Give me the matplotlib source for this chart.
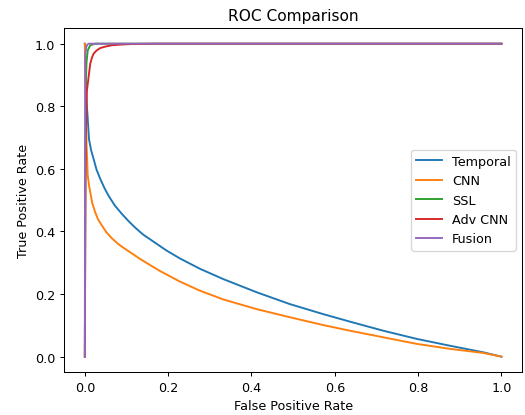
import matplotlib
matplotlib.use("Agg")
import matplotlib.pyplot as plt

# curves
temporal_fpr = [0.0, 0.003, 0.007, 0.010, 0.015, 0.021, 0.028, 0.037, 0.047, 0.057,
                0.072, 0.089, 0.105, 0.121, 0.14, 0.161, 0.195, 0.228, 0.276,
                0.332, 0.412, 0.492, 0.572, 0.636, 0.716, 0.796, 0.876, 0.956, 1.0]
temporal_tpr = [1.0, 0.84, 0.759, 0.695, 0.66, 0.632, 0.598, 0.568, 0.539, 0.514,
                0.483, 0.456, 0.433, 0.412, 0.39, 0.371, 0.34, 0.314, 0.281,
                0.248, 0.206, 0.168, 0.136, 0.112, 0.083, 0.057, 0.035, 0.014, 0.0]

cnn_fpr = [0.0, 0.004, 0.007, 0.010, 0.013, 0.018, 0.025, 0.032, 0.041, 0.052,
           0.065, 0.08, 0.097, 0.115, 0.133, 0.155, 0.18, 0.228, 0.276, 0.332,
           0.412, 0.492, 0.572, 0.636, 0.716, 0.796, 0.876, 0.956, 1.0]
cnn_tpr = [1.0, 0.68, 0.578, 0.548, 0.525, 0.49, 0.461, 0.438, 0.419, 0.397,
           0.378, 0.36, 0.344, 0.328, 0.312, 0.294, 0.274, 0.240, 0.211, 0.183,
           0.152, 0.126, 0.101, 0.083, 0.062, 0.041, 0.025, 0.012, 0.0]

ssl_fpr = [0.0, 0.002, 0.004, 0.007, 0.013, 0.025, 0.06, 1.0]
ssl_tpr = [0.0, 0.85, 0.94, 0.979, 0.995, 1.0, 1.0, 1.0]

adv_fpr = [0.0, 0.002, 0.005, 0.010, 0.013, 0.017, 0.021, 0.028, 0.037, 0.05,
           0.065, 0.085, 0.113, 0.17, 0.25, 1.0]
adv_tpr = [0.0, 0.7, 0.85, 0.904, 0.936, 0.955, 0.968, 0.978, 0.986, 0.991,
           0.995, 0.997, 0.999, 1.0, 1.0, 1.0]

fusion_fpr = [0.0, 0.001, 0.003, 0.006, 0.009, 0.05, 1.0]
fusion_tpr = [0.0, 0.96, 0.988, 0.997, 1.0, 1.0, 1.0]

dpi = 92
fig = plt.figure(figsize=(525 / dpi, 416 / dpi), dpi=dpi)
ax = fig.add_axes([0.1219, 0.1026, 0.873, 0.8276])

ax.plot(temporal_fpr, temporal_tpr, label="Temporal")
ax.plot(cnn_fpr, cnn_tpr, label="CNN")
ax.plot(ssl_fpr, ssl_tpr, label="SSL")
ax.plot(adv_fpr, adv_tpr, label="Adv CNN")
ax.plot(fusion_fpr, fusion_tpr, label="Fusion")

ax.set_xlim(-0.05, 1.05)
ax.set_ylim(-0.05, 1.05)
ax.set_xlabel("False Positive Rate")
ax.set_ylabel("True Positive Rate")
ax.set_title("ROC Comparison")
ax.legend(loc="center right")

fig.savefig("out.png", dpi=dpi)
